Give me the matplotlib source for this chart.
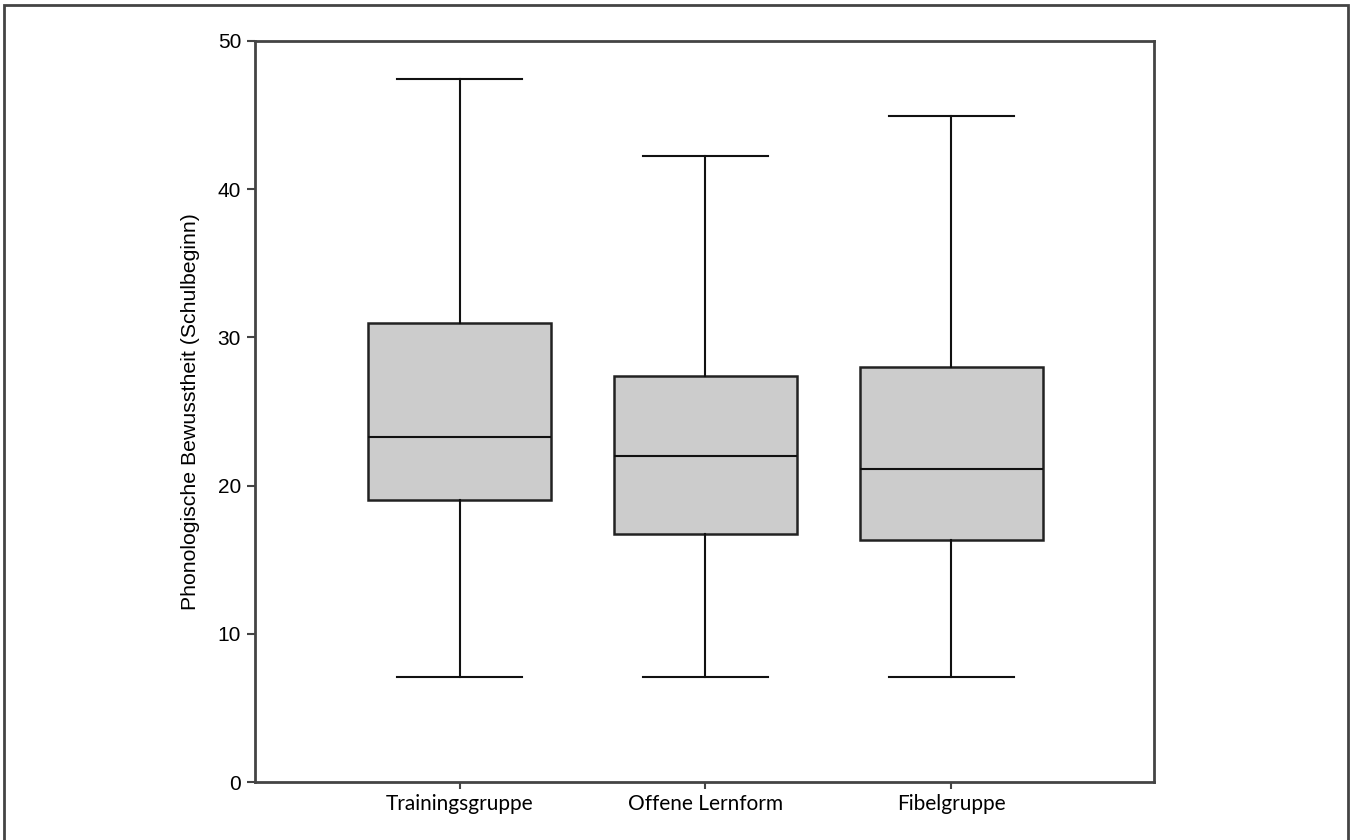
import matplotlib.pyplot as plt
from matplotlib.patches import Rectangle

# Werte
groups = ["Trainingsgruppe", "Offene Lernform", "Fibelgruppe"]
whisker_low = [7.1, 7.1, 7.1]
q1 = [19.0, 16.75, 16.3]
median = [23.25, 22.0, 21.1]
q3 = [31.0, 27.4, 28.0]
whisker_high = [47.45, 42.25, 44.95]

stats = []
for i, g in enumerate(groups):
    stats.append({"label": g, "whislo": whisker_low[i], "q1": q1[i], "med": median[i],
                  "q3": q3[i], "whishi": whisker_high[i], "fliers": []})

fig = plt.figure(figsize=(13.52, 8.4), dpi=100)
ax = fig.add_axes([255 / 1352, 1 - 782 / 840, (1154 - 255) / 1352, (782 - 41) / 840])

line = dict(color="#111111", linewidth=1.5)
ax.bxp(stats, positions=[1, 2, 3], widths=0.745, patch_artist=True, showfliers=False,
       boxprops=dict(facecolor="#cccccc", edgecolor="#222222", linewidth=1.8),
       medianprops=line, whiskerprops=line, capprops=line, capwidths=0.51)

ax.set_xlim(0.168, 3.825)
ax.set_ylim(0, 50)
ax.set_yticks([0, 10, 20, 30, 40, 50])
ax.set_yticklabels(["0", "10", "20", "30", "40", "50"], fontsize=15, family="Liberation Sans")
ax.set_xticks([1, 2, 3])
ax.set_xticklabels(groups, fontsize=15, family="Lato")
ax.tick_params(axis="both", width=1.5, color="#444444")
ax.tick_params(axis="y", length=6, pad=4)
ax.tick_params(axis="x", length=5, pad=4)
for s in ax.spines.values():
    s.set_color("#444444")
    s.set_linewidth(2)

ax.set_ylabel("Phonologische Bewusstheit (Schulbeginn)", fontsize=15.3, family="Liberation Sans", labelpad=13)

# Rahmen um die ganze Abbildung
fig.patches.append(Rectangle((4 / 1352, -0.01), 1344 / 1352, 1 - 5 / 840 + 0.01,
                             transform=fig.transFigure, fill=False, edgecolor="#444444", linewidth=2))

fig.savefig("out.png", dpi=100)
